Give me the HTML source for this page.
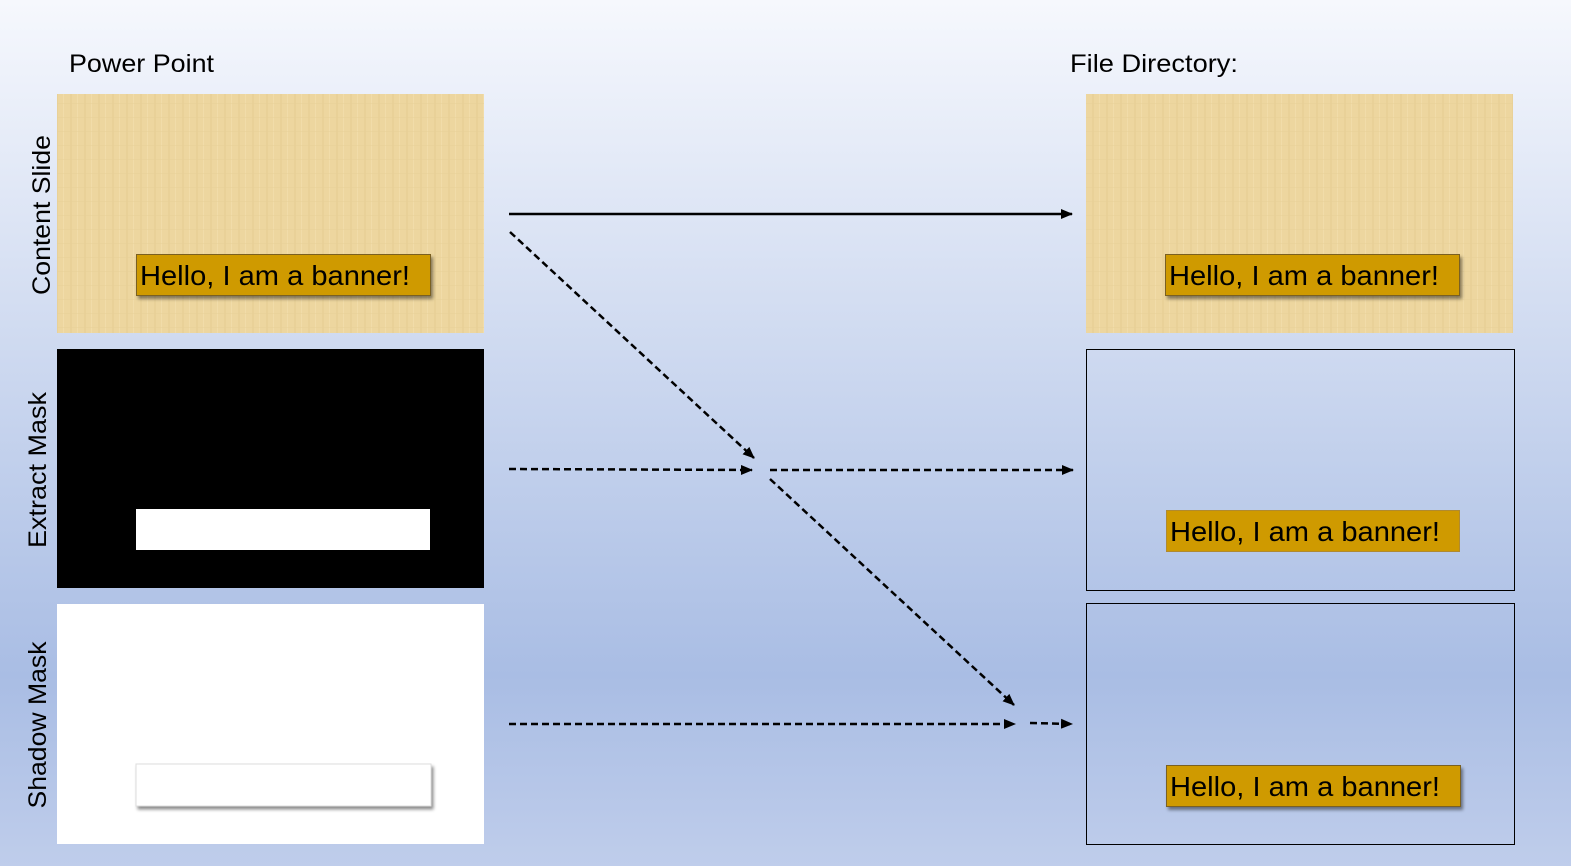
<!DOCTYPE html>
<html><head><meta charset="utf-8"><style>
html,body{margin:0;padding:0;width:1571px;height:866px;overflow:hidden}
svg{display:block}
text{font-family:"Liberation Sans",sans-serif}
</style></head><body>
<svg width="1571" height="866" viewBox="0 0 1571 866" xmlns="http://www.w3.org/2000/svg">
<defs>
<linearGradient id="bg" x1="0" y1="0" x2="0" y2="1">
<stop offset="0" stop-color="#f6f8fd"/>
<stop offset="0.78" stop-color="#a9bde4"/>
<stop offset="1" stop-color="#bfcdeb"/>
</linearGradient>
<pattern id="tex" width="14" height="14" patternUnits="userSpaceOnUse">
<rect width="14" height="14" fill="#edd69f"/>
<rect x="0" width="2" height="14" fill="#e6cd93" opacity="0.6"/>
<rect x="7" width="1" height="14" fill="#f3dfae" opacity="0.7"/>
<rect y="5" width="14" height="1" fill="#e8d098" opacity="0.5"/>
</pattern>
<filter id="sh" x="-5%" y="-20%" width="115%" height="150%"><feDropShadow dx="2" dy="3" stdDeviation="1.5" flood-color="#000" flood-opacity="0.45"/></filter>
<marker id="ah" markerWidth="12" markerHeight="10" refX="11" refY="5" orient="auto" markerUnits="userSpaceOnUse"><path d="M0,0 L12,5 L0,10 z" fill="#000"/></marker>
</defs>
<rect width="1571" height="866" fill="url(#bg)"/>
<text x="69" y="72" font-size="25" textLength="145" lengthAdjust="spacingAndGlyphs">Power Point</text>
<text x="1070" y="72" font-size="25" textLength="168" lengthAdjust="spacingAndGlyphs">File Directory:</text>
<text transform="translate(50,215) rotate(-90)" text-anchor="middle" font-size="25" textLength="160" lengthAdjust="spacingAndGlyphs">Content Slide</text>
<text transform="translate(46,470) rotate(-90)" text-anchor="middle" font-size="25" textLength="156" lengthAdjust="spacingAndGlyphs">Extract Mask</text>
<text transform="translate(46,725) rotate(-90)" text-anchor="middle" font-size="25" textLength="167" lengthAdjust="spacingAndGlyphs">Shadow Mask</text>

<rect x="57" y="94" width="427" height="239" fill="url(#tex)"/>
<rect x="136.5" y="254.5" width="294" height="41" fill="#cf9a00" stroke="#7a6020" filter="url(#sh)"/>
<text x="140" y="285" font-size="28" textLength="270" lengthAdjust="spacingAndGlyphs">Hello, I am a banner!</text>

<rect x="57" y="349" width="427" height="239" fill="#000"/>
<rect x="136" y="509" width="294" height="41" fill="#fff"/>

<rect x="57" y="604" width="427" height="240" fill="#fff"/>
<rect x="136" y="764" width="295" height="42" fill="#fff" stroke="#ddd" filter="url(#sh)"/>

<rect x="1086" y="94" width="427" height="239" fill="url(#tex)"/>
<rect x="1165.5" y="254.5" width="294" height="41" fill="#cf9a00" stroke="#7a6020" filter="url(#sh)"/>
<text x="1169" y="285" font-size="28" textLength="270" lengthAdjust="spacingAndGlyphs">Hello, I am a banner!</text>

<rect x="1086.5" y="349.5" width="428" height="241" fill="none" stroke="#000"/>
<rect x="1166.5" y="510.5" width="293" height="41" fill="#cf9a00" stroke="#b08a30"/>
<text x="1170" y="541" font-size="28" textLength="270" lengthAdjust="spacingAndGlyphs">Hello, I am a banner!</text>

<rect x="1086.5" y="603.5" width="428" height="241" fill="none" stroke="#000"/>
<rect x="1166.5" y="765.5" width="294" height="41" fill="#cf9a00" stroke="#7a6020" filter="url(#sh)"/>
<text x="1170" y="796" font-size="28" textLength="270" lengthAdjust="spacingAndGlyphs">Hello, I am a banner!</text>

<g stroke="#000" stroke-width="2.5" fill="none">
<line x1="509" y1="214" x2="1072" y2="214" marker-end="url(#ah)"/>
<g stroke-dasharray="7,4">
<line x1="510" y1="232" x2="754" y2="458" marker-end="url(#ah)"/>
<line x1="509" y1="469" x2="752" y2="470" marker-end="url(#ah)"/>
<line x1="770" y1="470" x2="1073" y2="470" marker-end="url(#ah)"/>
<line x1="770" y1="479" x2="1014" y2="705" marker-end="url(#ah)"/>
<line x1="509" y1="724" x2="1015" y2="724" marker-end="url(#ah)"/>
<line x1="1030" y1="723" x2="1072" y2="724" marker-end="url(#ah)"/>
</g>
</g>
</svg>
</body></html>
